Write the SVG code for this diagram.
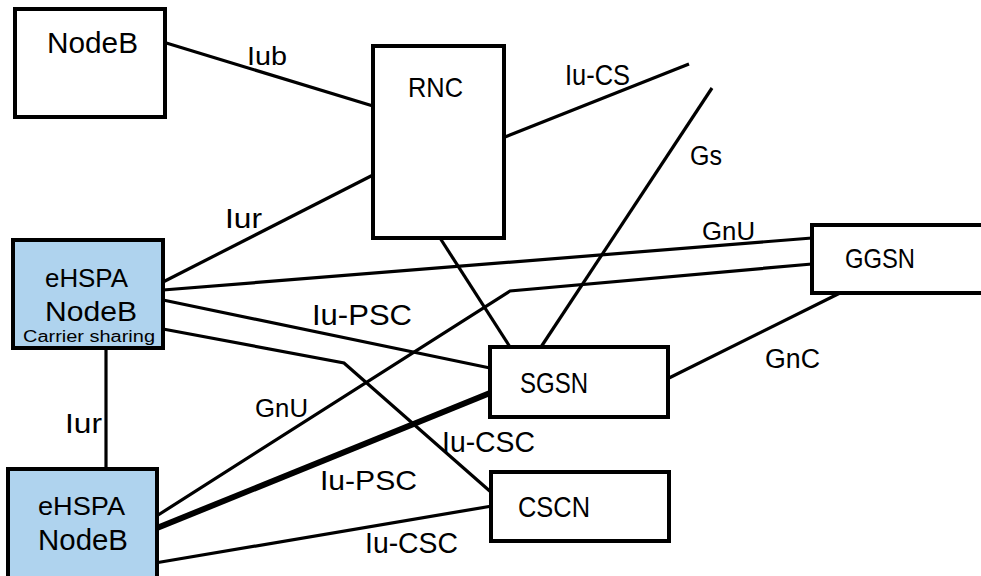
<svg xmlns="http://www.w3.org/2000/svg" width="981" height="576" viewBox="0 0 981 576">
<style>
.box{fill:#ffffff;stroke:#000;stroke-width:4}
.blue{fill:#afd3ee;stroke:#000;stroke-width:4}
.ln{fill:none;stroke:#000;stroke-width:3.2;stroke-linejoin:miter}
.thick{fill:none;stroke:#000;stroke-width:6}
text{font-family:"Liberation Sans",Arial,sans-serif;fill:#000}
</style>
<rect width="981" height="576" fill="#fff"/>
<g id="connectors">
<line class="ln" x1="163" y1="42" x2="373" y2="106"/>
<line class="ln" x1="505" y1="137" x2="689" y2="64"/>
<line class="ln" x1="712" y1="88" x2="541" y2="347"/>
<line class="ln" x1="373" y1="175" x2="163" y2="282"/>
<line class="ln" x1="440" y1="238" x2="510" y2="347"/>
<line class="ln" x1="163" y1="290" x2="812" y2="238"/>
<line class="ln" x1="163" y1="300" x2="490" y2="368"/>
<polyline class="ln" points="163,329 344,363 492,493"/>
<line class="ln" x1="106" y1="348" x2="106" y2="469"/>
<polyline class="ln" points="155,517 510,291 812,264"/>
<line class="ln" x1="665" y1="380" x2="840" y2="293"/>
<line class="thick" x1="157" y1="528" x2="490" y2="393"/>
<line class="ln" x1="155" y1="563" x2="492" y2="506"/>
<text x="247" y="65" font-size="25" textLength="40" lengthAdjust="spacingAndGlyphs">Iub</text>
<text x="565" y="85" font-size="29" textLength="65" lengthAdjust="spacingAndGlyphs">Iu-CS</text>
<text x="690" y="165" font-size="27" textLength="32" lengthAdjust="spacingAndGlyphs">Gs</text>
<text x="225" y="228" font-size="28" textLength="37" lengthAdjust="spacingAndGlyphs">Iur</text>
<text x="702" y="240" font-size="26" textLength="53" lengthAdjust="spacingAndGlyphs">GnU</text>
<text x="312" y="325" font-size="30" textLength="100" lengthAdjust="spacingAndGlyphs">Iu-PSC</text>
<text x="765" y="368" font-size="27" textLength="55" lengthAdjust="spacingAndGlyphs">GnC</text>
<text x="255" y="417" font-size="26" textLength="53" lengthAdjust="spacingAndGlyphs">GnU</text>
<text x="65" y="433" font-size="28" textLength="37" lengthAdjust="spacingAndGlyphs">Iur</text>
<text x="442" y="452" font-size="30" textLength="93" lengthAdjust="spacingAndGlyphs">Iu-CSC</text>
<text x="320" y="490" font-size="28" textLength="97" lengthAdjust="spacingAndGlyphs">Iu-PSC</text>
<text x="365" y="553" font-size="30" textLength="93" lengthAdjust="spacingAndGlyphs">Iu-CSC</text>
</g>
<g id="nodeb">
<rect class="box" x="15" y="9" width="150" height="108"/>
<text x="47" y="53" font-size="30" textLength="91" lengthAdjust="spacingAndGlyphs">NodeB</text>
</g>
<g id="rnc">
<rect class="box" x="373" y="46" width="131" height="192"/>
<text x="408" y="97" font-size="28" textLength="55" lengthAdjust="spacingAndGlyphs">RNC</text>
</g>
<g id="ehspa1">
<rect class="blue" x="13" y="240" width="150" height="108"/>
<text x="45" y="287" font-size="26" textLength="83" lengthAdjust="spacingAndGlyphs">eHSPA</text>
<text x="45" y="321" font-size="27" textLength="92" lengthAdjust="spacingAndGlyphs">NodeB</text>
<text x="23" y="342" font-size="16" textLength="132" lengthAdjust="spacingAndGlyphs">Carrier sharing</text>
</g>
<g id="ggsn">
<rect class="box" x="812" y="225" width="190" height="68"/>
<text x="845" y="268" font-size="28" textLength="70" lengthAdjust="spacingAndGlyphs">GGSN</text>
</g>
<g id="sgsn">
<rect class="box" x="490" y="347" width="178" height="70"/>
<text x="520" y="393" font-size="30" textLength="68" lengthAdjust="spacingAndGlyphs">SGSN</text>
</g>
<g id="cscn">
<rect class="box" x="491" y="472" width="178" height="69"/>
<text x="518" y="517" font-size="30" textLength="72" lengthAdjust="spacingAndGlyphs">CSCN</text>
</g>
<g id="ehspa2">
<rect class="blue" x="8" y="469" width="149" height="120"/>
<text x="38" y="515" font-size="26" textLength="87" lengthAdjust="spacingAndGlyphs">eHSPA</text>
<text x="38" y="550" font-size="29" textLength="90" lengthAdjust="spacingAndGlyphs">NodeB</text>
</g>
</svg>
